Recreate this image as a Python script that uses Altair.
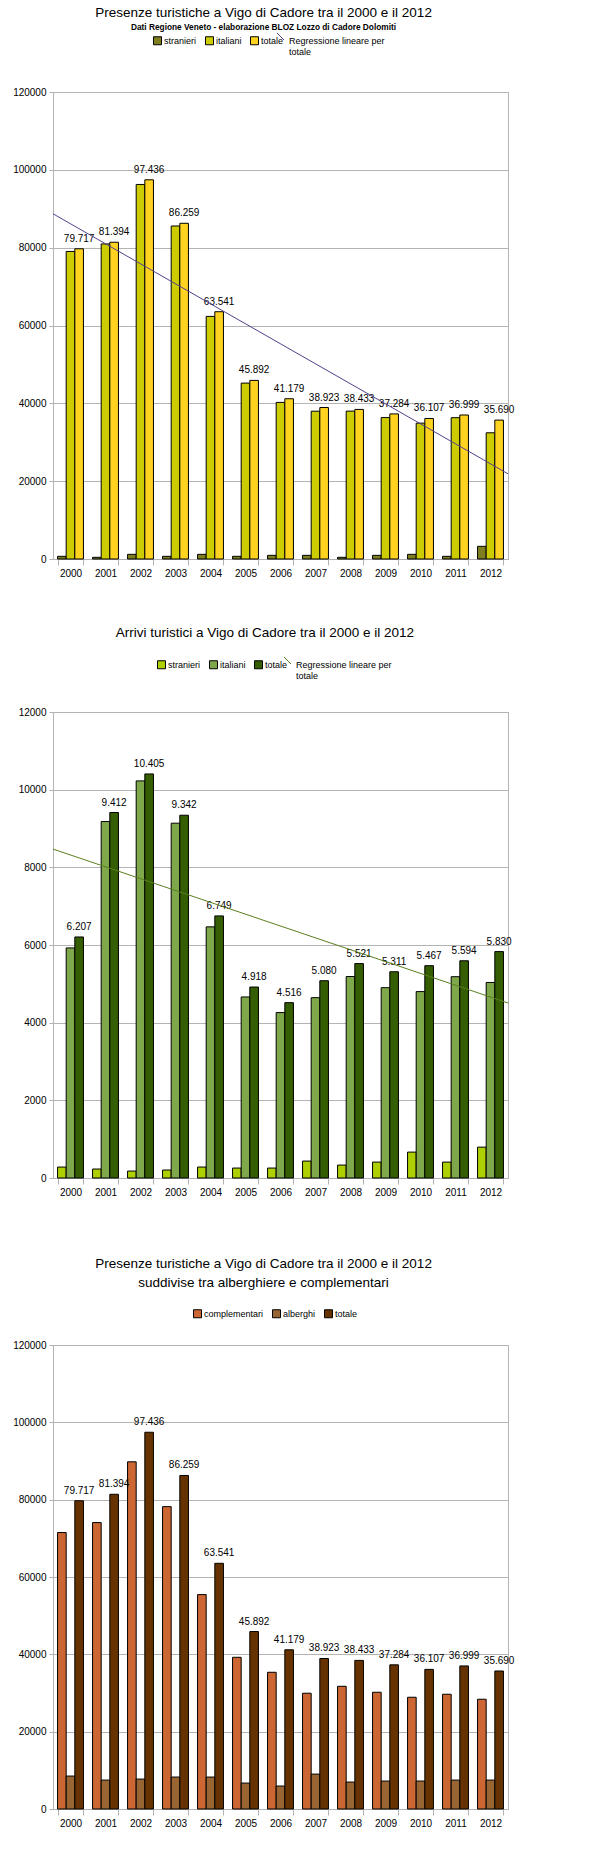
import altair as alt
import pandas as pd
import numpy as np

FONT = "Liberation Sans, Arial, sans-serif"
GRID = "#b3b3b3"

anni = [str(a) for a in range(2000, 2013)]

# Chart 1 - Presenze
pres_nomi = ["stranieri", "italiani", "totale"]
pres_stranieri = [690, 430, 1200, 690, 1200, 690, 940, 940, 430, 940, 1200, 690, 3260]
pres_italiani = [79030, 80960, 96240, 85570, 62340, 45200, 40240, 37980, 38000, 36340, 34910, 36310, 32430]
pres_totale = [79717, 81394, 97436, 86259, 63541, 45892, 41179, 38923, 38433, 37284, 36107, 36999, 35690]
pres_colori = ["#7f7f1f", "#cccc00", "#ffd320"]

# Chart 2 - Arrivi
arr_nomi = ["stranieri", "italiani", "totale"]
arr_stranieri = [282, 231, 179, 205, 282, 256, 256, 436, 333, 410, 667, 410, 795]
arr_italiani = [5925, 9181, 10226, 9137, 6467, 4662, 4260, 4644, 5188, 4901, 4800, 5184, 5035]
arr_totale = [6207, 9412, 10405, 9342, 6749, 4918, 4516, 5080, 5521, 5311, 5467, 5594, 5830]
arr_colori = ["#aecf00", "#7ea84a", "#355e00"]

# Chart 3 - Presenze per tipo di struttura
str_nomi = ["complementari", "alberghi", "totale"]
complementari = [71500, 74080, 89790, 78200, 55450, 39230, 35360, 29940, 31740, 30190, 28900, 29680, 28390]
alberghi = [8520, 7480, 7740, 8260, 8260, 6710, 5940, 9030, 6970, 7230, 7230, 7480, 7480]
str_totale = pres_totale
str_colori = ["#cc6633", "#996633", "#663300"]

REG_LABEL = "Regressione lineare per totale"


def long_df(names, values):
    rows = []
    for name, vals in zip(names, values):
        for a, v in zip(anni, vals):
            rows.append({"anno": a, "serie": name, "valore": v})
    return pd.DataFrame(rows)


def reg_df(tot):
    idx = np.arange(1, len(tot) + 1)
    m, q = np.polyfit(idx, tot, 1)
    xs = [0.5, len(tot) + 0.5]
    return pd.DataFrame({"pos": xs, "valore": [m * x + q for x in xs], "linea": [REG_LABEL] * 2})


def panel(names, values, colors, ymax, step, title, lx, ly, reg_color=None, rx=None, h=466):
    df = long_df(names, values)
    x = alt.X("anno:N", title=None,
              scale=alt.Scale(paddingInner=0.26, paddingOuter=0.13),
              axis=alt.Axis(labelAngle=0, tickBand="extent", tickSize=6, tickColor=GRID,
                            domainColor=GRID, labelFont=FONT, labelFontSize=10,
                            labelColor="black", labelPadding=3))
    y = alt.Y("valore:Q", title=None,
              scale=alt.Scale(domain=[0, ymax], nice=False, zero=True),
              axis=alt.Axis(values=list(range(0, ymax + 1, step)), format="d", grid=True,
                            gridColor=GRID, tickColor=GRID, tickSize=4, domainColor=GRID,
                            labelFont=FONT, labelFontSize=10, labelColor="black", labelPadding=3))
    xo = alt.XOffset("serie:N", scale=alt.Scale(domain=names, paddingInner=0, paddingOuter=0))
    bars = alt.Chart(df).mark_bar(stroke="black", strokeWidth=1).encode(
        x=x, xOffset=xo, y=y,
        fill=alt.Fill("serie:N", scale=alt.Scale(domain=names, range=colors),
                      legend=alt.Legend(title=None, orient="none", direction="horizontal",
                                        legendX=lx, legendY=ly, symbolType="square",
                                        symbolSize=64, symbolStrokeColor="black",
                                        symbolStrokeWidth=1, labelFont=FONT, labelFontSize=9,
                                        labelColor="black", labelOffset=2, columnPadding=6)),
    )
    text = alt.Chart(df).transform_filter(alt.datum.serie == "totale").transform_calculate(
        lab="replace(format(datum.valore, ','), ',', '.')"
    ).mark_text(font=FONT, fontSize=10, dy=-7, baseline="alphabetic", color="black").encode(
        x=x, xOffset=xo, y=y, text="lab:N")
    inner = alt.layer(bars, text)
    if reg_color is None:
        ch = inner
    else:
        line = alt.Chart(reg_df(values[-1])).mark_line(strokeWidth=1).encode(
            x=alt.X("pos:Q", scale=alt.Scale(domain=[0.5, len(anni) + 0.5], nice=False, zero=False), axis=None),
            y=y,
            stroke=alt.Stroke("linea:N", scale=alt.Scale(domain=[REG_LABEL], range=[reg_color]),
                              legend=alt.Legend(title=None, orient="none", legendX=rx, legendY=ly - 4,
                                                symbolType="M-1,-1L1,1", symbolSize=50,
                                                symbolStrokeWidth=1, labelFont=FONT,
                                                labelFontSize=9, labelColor="black",
                                                labelBaseline="top", labelOffset=4,
                                                labelExpr="['Regressione lineare per', 'totale']")),
        )
        ch = alt.layer(inner, line).resolve_scale(x="independent")
    return ch.properties(width=455, height=h, title=title)


t1 = alt.TitleParams(text="Presenze turistiche a Vigo di Cadore tra il 2000 e il 2012",
                     subtitle="Dati Regione Veneto - elaborazione BLOZ Lozzo di Cadore Dolomiti",
                     font=FONT, fontSize=13.5, fontWeight="normal", color="black", frame="bounds",
                     subtitleFont=FONT, subtitleFontSize=8.3, subtitleFontWeight="bold",
                     subtitleColor="black", subtitlePadding=3, offset=1)
t2 = alt.TitleParams(text="Arrivi turistici a Vigo di Cadore tra il 2000 e il 2012",
                     font=FONT, fontSize=13.5, fontWeight="normal", color="black", frame="bounds",
                     offset=17)
t3 = alt.TitleParams(text=["Presenze turistiche a Vigo di Cadore tra il 2000 e il 2012",
                           "suddivise tra alberghiere e complementari"],
                     font=FONT, fontSize=13.5, fontWeight="normal", color="black", frame="bounds",
                     offset=20, lineHeight=19)

p1 = panel(pres_nomi, [pres_stranieri, pres_italiani, pres_totale], pres_colori,
           120000, 20000, t1, 100, -56, "#55408a", 223, 467)
p2 = panel(arr_nomi, [arr_stranieri, arr_italiani, arr_totale], arr_colori,
           12000, 2000, t2, 104, -52, "#5a7f1f", 230, 466)
p3 = panel(str_nomi, [complementari, alberghi, str_totale], str_colori,
           120000, 20000, t3, 140, -36, None, None, 464)

RES = dict(x="independent", y="independent", xOffset="independent",
           fill="independent", stroke="independent")

top = alt.vconcat(p1, p2, spacing=46).resolve_scale(**RES)
chart = alt.vconcat(top, p3, spacing=58).resolve_scale(**RES).properties(
    padding={"left": 12, "top": 5, "right": 5, "bottom": 5}
).configure_view(stroke=GRID)

chart.save("out.html", embed_options={"renderer": "svg", "actions": False})
